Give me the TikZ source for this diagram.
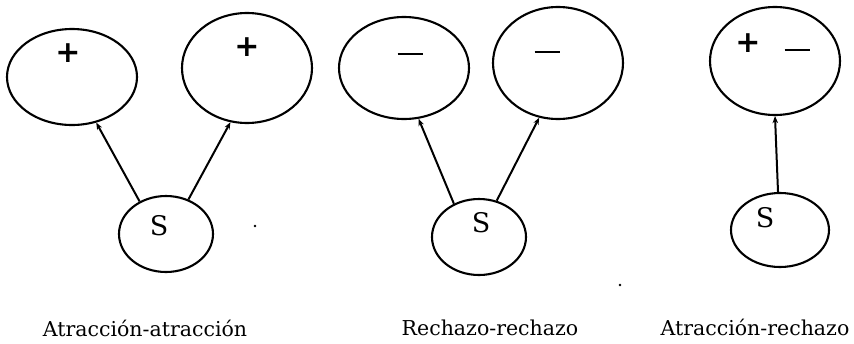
\documentclass[tikz,border=0pt]{standalone}
\usepackage{fontspec}
\newfontfamily\capfont{DejaVu Serif}
\newfontfamily\signfont{DejaVu Sans}
\usetikzlibrary{shapes.geometric,arrows.meta}
\begin{document}
\begin{tikzpicture}[x=1pt,y=-1pt,
  oval/.style={draw,ellipse,line width=2.1pt,inner sep=0pt},
  sgn/.style={font=\signfont\bfseries\fontsize{30}{32}\selectfont,inner sep=0pt},
  minus/.style={inner sep=0pt},
  slab/.style={font=\capfont\fontsize{27}{30}\selectfont,inner sep=0pt},
  caption text/.style={font=\capfont\fontsize{20.5}{24}\selectfont,inner sep=0pt,anchor=base},
  arr/.style={line width=2pt,-{Stealth[length=7pt,width=5.5pt]}},
  speck/.style={fill=black,inner sep=0pt,minimum size=2.6pt,circle}]
\useasboundingbox (0,0) rectangle (854,343);
% group 1
\node[oval,minimum width=130pt,minimum height=96pt] (a1) at (72,77) {};
\node[oval,minimum width=130pt,minimum height=110pt] (a2) at (247,68) {};
\node[oval,minimum width=94pt,minimum height=76pt] (s1) at (166,234) {};
\node[sgn] (pa1) at (68,53) {+};
\node[sgn] (pa2) at (247,47) {+};
\node[slab] (ls1) at (159,226) {S};
\draw[arr] (s1.129) -- (a1.-62);
\draw[arr] (s1.57) -- (a2.-107);
\node[caption text] (t1) at (145,336) {Atracción-atracción};
% group 2
\node[oval,minimum width=130pt,minimum height=102pt] (b1) at (404,68) {};
\node[oval,minimum width=130pt,minimum height=112pt] (b2) at (558,63) {};
\node[oval,minimum width=94pt,minimum height=76pt] (s2) at (479,237) {};
\node[minus] (mb1) at (410,54) {\rule{25pt}{1.8pt}};
\node[minus] (mb2) at (547,52) {\rule{25pt}{1.8pt}};
\node[slab] (ls2) at (481,223) {S};
\draw[arr] (s2.127) -- (b1.-74);
\draw[arr] (s2.64) -- (b2.-109);
\node[caption text] (t2) at (490,335) {Rechazo-rechazo};
% group 3
\node[oval,minimum width=130pt,minimum height=108pt] (c1) at (775,61) {};
\node[oval,minimum width=98pt,minimum height=74pt] (s3) at (780,230) {};
\node[sgn] (pc1) at (748,43) {+};
\node[minus] (mc1) at (797,50) {\rule{25pt}{1.8pt}};
\node[slab] (ls3) at (765,218) {S};
\draw[arr] (s3.93) -- (c1.south);
\node[caption text] (t3) at (755,335) {Atracción-rechazo};
% specks
\node[speck] (d1) at (255,226) {};
\node[speck] (d2) at (620,285) {};
\end{tikzpicture}
\end{document}
